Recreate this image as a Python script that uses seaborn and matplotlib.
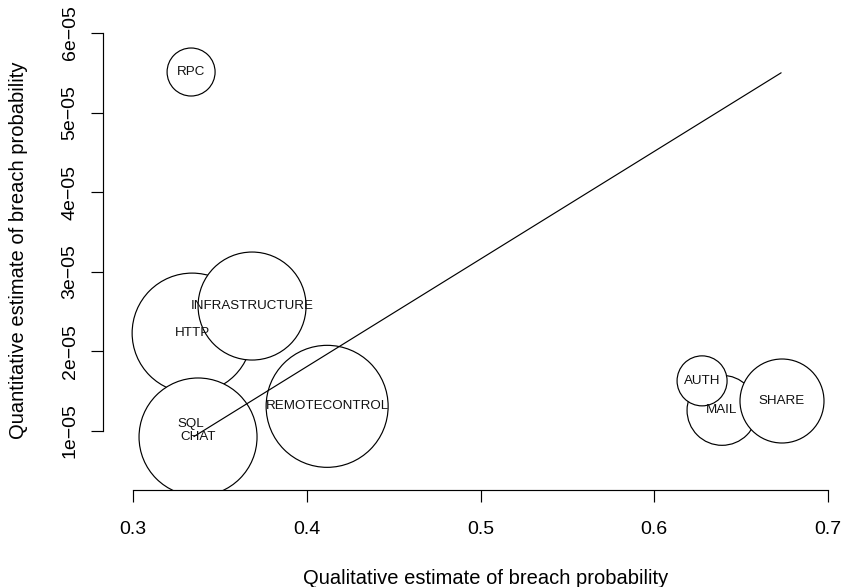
import matplotlib

matplotlib.use("Agg")

import matplotlib.pyplot as plt
import pandas as pd
import seaborn as sns

# services, in drawing order (later circles cover earlier ones)
services = ["RPC", "HTTP", "INFRASTRUCTURE", "SQL", "CHAT", "REMOTECONTROL", "MAIL", "SHARE", "AUTH"]
qualitative = [0.3334, 0.3340, 0.3685, 0.3334, 0.3374, 0.4117, 0.6390, 0.6735, 0.6275]
quantitative = [5.51e-05, 2.23e-05, 2.57e-05, 1.09e-05, 0.925e-05, 1.31e-05, 1.26e-05, 1.377e-05, 1.63e-05]
bubble_radius = [24, 60, 54, 40, 59, 61, 35, 42, 25]

fit_x = [0.335, 0.673]
fit_y = [0.93e-05, 5.50e-05]

x_ticks = [0.3, 0.4, 0.5, 0.6, 0.7]
y_ticks = [1e-05, 2e-05, 3e-05, 4e-05, 5e-05, 6e-05]
y_tick_labels = ["1e\u221205", "2e\u221205", "3e\u221205", "4e\u221205", "5e\u221205", "6e\u221205"]

DPI = 100


def main() -> None:
    sns.set_theme(style="ticks")
    plt.rcParams["font.family"] = ["Liberation Sans", "DejaVu Sans"]

    df = pd.DataFrame({
        "service": services,
        "qual": qualitative,
        "quant": quantitative,
        "radius": bubble_radius,
    })
    # marker area in points^2 from radius in pixels
    areas = [(2 * r * 72 / DPI) ** 2 for r in df["radius"]]

    fig = plt.figure(figsize=(845 / DPI, 587 / DPI), dpi=DPI)
    ax = fig.add_axes([103 / 845, 1 - 490 / 587, (868 - 103) / 845, 480 / 587])

    sns.scatterplot(
        data=df, x="qual", y="quant", ax=ax, s=areas,
        facecolor="white", edgecolor="black", linewidth=0.85, zorder=2, legend=False,
    )
    sns.lineplot(x=fit_x, y=fit_y, ax=ax, color="black", linewidth=0.85, zorder=3)
    for _, row in df.iterrows():
        ax.text(row["qual"], row["quant"], row["service"], ha="center", va="center",
                fontsize=9.6, color="#111111", zorder=4)

    ax.set_xlim(0.2827, 0.723)
    ax.set_ylim(0.259e-05, 6.289e-05)
    ax.set_xticks(x_ticks)
    ax.set_xticklabels([str(t) for t in x_ticks])
    ax.set_yticks(y_ticks)
    ax.set_yticklabels(y_tick_labels, rotation=90, va="center")
    ax.tick_params(axis="both", direction="out", length=8.6, width=0.85, labelsize=14, colors="black")
    ax.tick_params(axis="x", pad=14)
    ax.tick_params(axis="y", pad=9)

    sns.despine(ax=ax)
    ax.spines["bottom"].set_bounds(0.3, 0.7)
    ax.spines["left"].set_bounds(1e-05, 6e-05)
    for side in ("bottom", "left"):
        ax.spines[side].set_linewidth(0.85)
        ax.spines[side].set_color("black")

    ax.set_xlabel("Qualitative estimate of breach probability", fontsize=14.5, color="black")
    ax.set_ylabel("Quantitative estimate of breach probability", fontsize=14.5, color="black")
    ax.xaxis.set_label_coords(0.5, (490 - 569) / 480)
    ax.yaxis.set_label_coords((28 - 103) / 765, 0.5)

    fig.savefig("out.png", dpi=DPI)
    plt.close(fig)


if __name__ == "__main__":
    main()
